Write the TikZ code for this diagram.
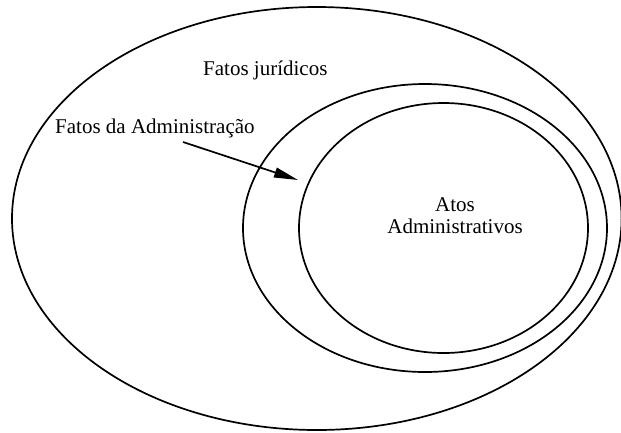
\documentclass[tikz,border=0pt]{standalone}
\usepackage{fontspec}
\setmainfont{Liberation Serif}
\usetikzlibrary{arrows.meta}
\begin{document}
\begin{tikzpicture}[x=1pt,y=-1pt,
  ring/.style={line width=1.7pt},
  lbl/.style={inner sep=0pt,font=\fontsize{21}{21.5}\selectfont},
  pointer/.style={line width=1.7pt,-{Triangle[length=24pt,width=10pt]}}]
\useasboundingbox (0,0) rectangle (621,432);
\draw[ring] (316.8,218.5) ellipse [x radius=304.8, y radius=211.5];
\draw[ring] (425,228) ellipse [x radius=182, y radius=144];
\draw[ring] (443.5,228) ellipse [x radius=144.5, y radius=125];
\node[lbl,anchor=base west] (fj) at (203,75) {Fatos jurídicos};
\node[lbl,anchor=base west] (fa) at (55,133) {Fatos da Administração};
\node[lbl,anchor=base,align=center] (aa) at (455,233) {Atos\\Administrativos};
\coordinate (as) at (183,142);
\coordinate (ae) at (298,180);
\draw[pointer] (as) -- (ae);
\end{tikzpicture}
\end{document}
